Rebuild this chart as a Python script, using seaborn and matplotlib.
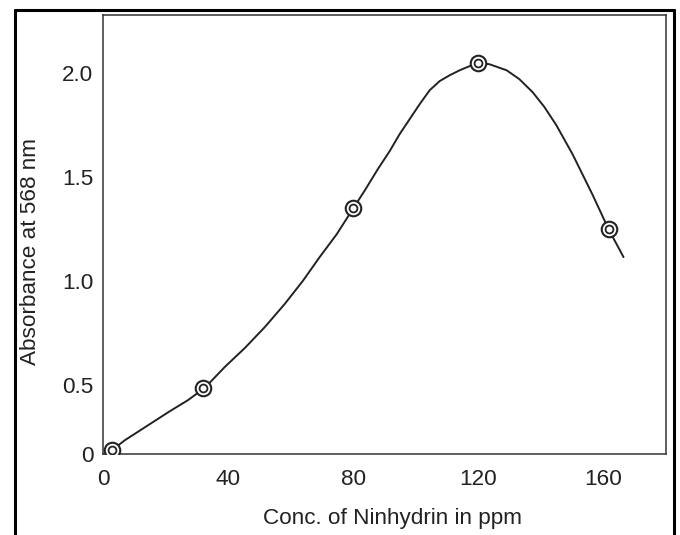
import numpy as np
import pandas as pd
import seaborn as sns
import matplotlib.pyplot as plt
from matplotlib.lines import Line2D

# measured points
conc = [3, 32, 80, 120, 162]
absorbance = [0.03, 0.48, 1.35, 2.05, 1.25]

# smooth line as drawn in the figure
curve_x = [3, 7, 11.8, 16.6, 21.4, 27.2, 32.6, 39, 45.4, 51.8, 58.1, 63.9,
           69.3, 74.8, 79.9, 84, 87.9, 91.7, 94.9, 98.1, 101.3, 104.5, 107.7,
           110.9, 114.1, 117.3, 120.1, 123.6, 129.1, 133.2, 137.4, 141.2,
           145, 150.2, 156.5, 161.7, 166.5]
curve_y = [0.03, 0.10, 0.17, 0.24, 0.31, 0.39, 0.48, 0.587, 0.678, 0.779,
           0.889, 1.0, 1.115, 1.226, 1.346, 1.442, 1.538, 1.625, 1.707, 1.779,
           1.851, 1.918, 1.962, 1.99, 2.014, 2.034, 2.05, 2.043, 2.014, 1.971,
           1.909, 1.837, 1.75, 1.61, 1.418, 1.25, 1.115]

xticks = [0, 40, 80, 120, 160]
yticks = [0, 0.5, 1.0, 1.5, 2.0]
ytick_labels = ["0", "0.5", "1.0", "1.5", "2.0"]

pts = pd.DataFrame({"conc": conc, "abs": absorbance})
line = pd.DataFrame({"conc": curve_x, "abs": curve_y})

sns.set_theme(style="white")
plt.rcParams["font.family"] = ["Liberation Sans", "DejaVu Sans"]
fs = 16.2

ink = "#222222"
fig = plt.figure(figsize=(6.8, 5.35), dpi=100)
ax = fig.add_axes([0.1515, 0.1514, 0.8275, 0.8206])

# the y axis is squeezed below 0.5 in the original
k = 0.665
def fwd(y):
    y = np.asarray(y, dtype=float)
    return np.where(y < 0.5, 0.5 - (0.5 - y) * k, y)
def inv(v):
    v = np.asarray(v, dtype=float)
    return np.where(v < 0.5, 0.5 - (0.5 - v) / k, v)
ax.set_yscale("function", functions=(fwd, inv))

sns.lineplot(data=line, x="conc", y="abs", ax=ax, color=ink, lw=1.4,
             sort=False, estimator=None, zorder=2)
sns.scatterplot(data=pts, x="conc", y="abs", ax=ax, s=125, color="white",
                edgecolor=ink, linewidth=1.5, zorder=3)
sns.scatterplot(data=pts, x="conc", y="abs", ax=ax, s=32, color="white",
                edgecolor=ink, linewidth=1.3, zorder=4)

ax.set_xlim(0, 180)
ax.set_ylim(0, 2.28)
ax.set_xticks(xticks)
ax.set_xticklabels([str(t) for t in xticks])
ax.set_yticks(yticks)
ax.set_yticklabels(ytick_labels)
ax.tick_params(axis="both", length=0, labelsize=fs, colors=ink)
ax.tick_params(axis="x", pad=11)
ax.tick_params(axis="y", pad=7)
ax.minorticks_off()

for s in ax.spines.values():
    s.set_color("#333333")
    s.set_linewidth(1.1)

ax.set_xlabel("Conc. of Ninhydrin in ppm", fontsize=fs, color=ink)
ax.set_ylabel("Absorbance at 568 nm", fontsize=fs, color=ink)
ax.xaxis.label.set_va("center")
ax.yaxis.label.set_va("center")
ax.xaxis.set_label_coords(0.515, -0.148)
ax.yaxis.set_label_coords(-0.128, 0.462)

# outer frame of the figure (open at the bottom)
W, H = 680, 535
xl, xr, yt = 15 / W, 674 / W, 1 - 10 / H
for xs, ys in [([xl, xl], [-0.05, yt]), ([xl, xr], [yt, yt]), ([xr, xr], [yt, -0.05])]:
    fig.add_artist(Line2D(xs, ys, color="black", lw=2.2, transform=fig.transFigure))

fig.savefig("out.png", dpi=100)
